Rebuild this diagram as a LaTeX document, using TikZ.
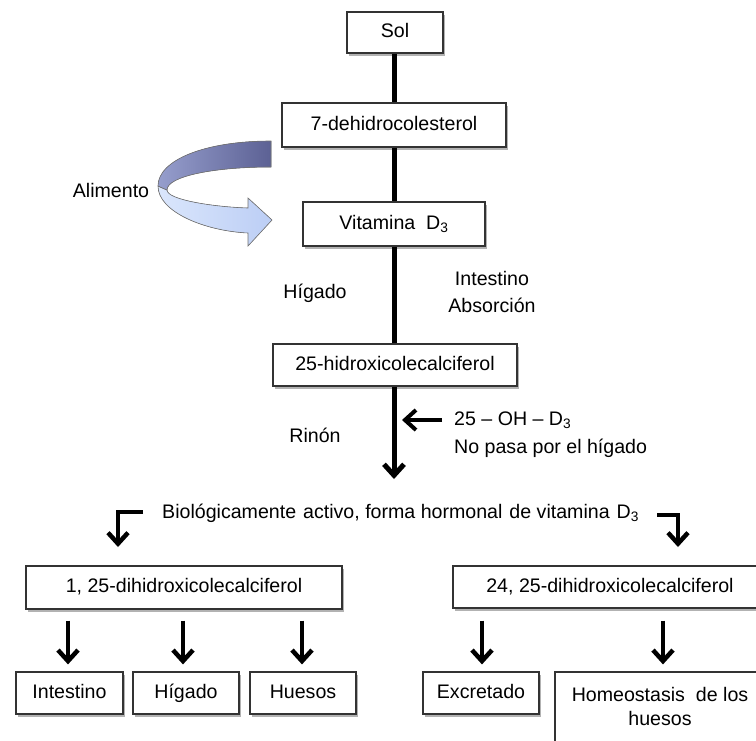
\documentclass[tikz,border=0pt]{standalone}
\usepackage{fontspec}
\setmainfont{Liberation Sans}
\usetikzlibrary{arrows.meta,shadows}
\definecolor{ribdarkR}{RGB}{92,97,148}
\definecolor{ribdarkL}{RGB}{150,158,205}
\definecolor{riblightL}{RGB}{218,230,252}
\definecolor{riblightR}{RGB}{188,206,245}
\tikzset{
  box/.style={draw=black!80, line width=1.2pt, fill=white, inner sep=0pt,
    text height=14pt, text depth=4pt,
    drop shadow={shadow xshift=2pt, shadow yshift=-3pt, opacity=0.3, fill=black}},
  txt/.style={inner sep=0pt},
  mainline/.style={line width=5pt},
  arr/.style={line width=4.5pt, -{Straight Barb[length=11pt, width=20pt]}},
}
\begin{document}
\begin{tikzpicture}[x=1pt, y=-1pt, font=\fontsize{19.6}{23}\selectfont]
\useasboundingbox (0,0) rectangle (756,740);
\clip (0,0) rectangle (756,740);
\fill[white] (0,0) rectangle (756,740);

% top chain
\node[box, minimum width=96, minimum height=41] (sol) at (395,32.5) {Sol};
\node[box, minimum width=224, minimum height=44] (dh) at (394,125) {7-dehidrocolesterol};
\node[box, minimum width=182, minimum height=44] (vit) at (394,224) {Vitamina\ \ D\textsubscript{3}};
\node[box, minimum width=244, minimum height=42] (hx) at (395,365) {25-hidroxicolecalciferol};
\coordinate (tip) at (394,479);

\draw[mainline] (sol.south -| 394,0) -- (dh.north -| 394,0);
\draw[mainline] (dh.south -| 394,0) -- (vit.north -| 394,0);
\draw[mainline] (vit.south -| 394,0) -- (hx.north -| 394,0);
\draw[arr, line width=5pt] (hx.south -| 394,0) -- (tip);

% curved ribbon arrow
\fill[left color=riblightL, right color=riblightR, draw=black!55, line width=0.6pt]
  (158,186) .. controls (158,212) and (205,231) .. (248,233) -- (248,246) -- (272,220)
  -- (248,198) -- (248,208) .. controls (215,207) and (167,200) .. (167,190) -- cycle;
\fill[left color=ribdarkL, right color=ribdarkR, draw=black!55, line width=0.6pt]
  (271,141) .. controls (205,141) and (158,160) .. (158,186) -- (167,190)
  .. controls (167,176) and (215,167) .. (271,167) -- cycle;
\node[txt] (alim) at (111,190) {Alimento};

% side labels
\node[txt] (hig) at (315,293) {Hígado};
\node[txt] (int1) at (492,278) {Intestino};
\node[txt] (abs) at (492,305) {Absorción};
\node[txt] (rin) at (315,435) {Rinón};
\node[txt, anchor=west] (oh) at (454,420) {25 – OH – D\textsubscript{3}};
\node[txt, anchor=west] (np) at (454,448) {No pasa por el hígado};
\coordinate (ohs) at (442,420);
\coordinate (ohe) at (402,420);
\draw[arr, line width=4pt] (ohs) -- (ohe);

% biologically active
\node[txt, anchor=west] (bio) at (162,513) {Biológicamente\hspace{7pt}activo, forma hormonal\hspace{7pt}de vitamina\hspace{7pt}D\textsubscript{3}};
\coordinate (bl0) at (143,512);
\coordinate (bl1) at (118,547);
\draw[arr] (bl0) -| (bl1);
\coordinate (br0) at (657,515);
\coordinate (br1) at (678,547);
\draw[arr] (br0) -| (br1);

% lower boxes
\node[box, minimum width=316, minimum height=43] (d125) at (184,587.5) {1, 25-dihidroxicolecalciferol};
\node[box, minimum width=314, minimum height=42] (d2425) at (610,587) {24, 25-dihidroxicolecalciferol};

\node[box, minimum width=107, minimum height=42] (bint) at (69.5,693) {Intestino};
\node[box, minimum width=106, minimum height=42] (bhig) at (186,693) {Hígado};
\node[box, minimum width=106, minimum height=42] (bhue) at (303,693) {Huesos};
\node[box, minimum width=116, minimum height=42] (bexc) at (481,693) {Excretado};
\node[box, minimum width=212, minimum height=90] (bhom) at (661,717) {};
\node[txt, align=center] (thom) at (660,706) {Homeostasis\ \ de los\\[1pt] huesos};

\draw[arr, shorten <=11pt, shorten >=7pt] (d125.south -| 68,0) -- (bint.north -| 68,0);
\draw[arr, shorten <=11pt, shorten >=7pt] (d125.south -| 183,0) -- (bhig.north -| 183,0);
\draw[arr, shorten <=11pt, shorten >=7pt] (d125.south -| 302,0) -- (bhue.north -| 302,0);
\draw[arr, shorten <=12pt, shorten >=7pt] (d2425.south -| 482,0) -- (bexc.north -| 482,0);
\draw[arr, shorten <=12pt, shorten >=7pt] (d2425.south -| 663,0) -- (bhom.north -| 663,0);
\end{tikzpicture}
\end{document}
